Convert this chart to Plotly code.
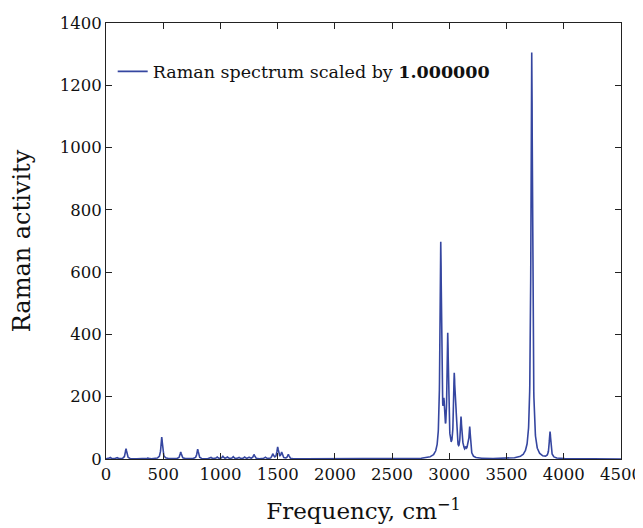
import numpy as np
import plotly.graph_objects as go

# Vibrational modes (cm^-1) and Raman activities
mode_freq = [35, 93, 175, 367, 487, 653, 801, 915, 970, 1020, 1060, 1110, 1160,
             1210, 1250, 1293, 1390, 1457, 1500, 1535, 1593,
             2925, 2953, 2986, 3043, 3058, 3102, 3122, 3143, 3160, 3178,
             3720, 3880]
mode_act = [5, 5, 33, 3, 70, 22, 31, 5, 6, 8, 6, 7, 5,
            6, 5, 14, 6, 15, 37, 20, 14,
            680, 120, 380, 240, 100, 120, 20, 20, 20, 95,
            1305, 85]
hwhm = 8.0  # Lorentzian half width, cm^-1

x_min, x_max, y_max = 0, 4500, 1400
x_ticks = [0, 500, 1000, 1500, 2000, 2500, 3000, 3500, 4000, 4500]
y_ticks = [0, 200, 400, 600, 800, 1000, 1200, 1400]

freq = np.arange(x_min, x_max + 1, 1.0)
spec = np.zeros_like(freq)
for f0, a in zip(mode_freq, mode_act):
    spec += a * hwhm**2 / ((freq - f0) ** 2 + hwhm**2)

font_fam = "DejaVu Serif, serif"

fig = go.Figure()
fig.add_trace(go.Scatter(
    x=freq, y=spec, mode="lines",
    line=dict(color="#3546a0", width=1.6),
    name="Raman spectrum scaled by <b>1.000000</b>",
))

axis_common = dict(
    showline=True, linecolor="#222", linewidth=1, mirror="allticks",
    ticks="inside", ticklen=6, tickcolor="#222", showgrid=False,
    zeroline=False, automargin=False,
    tickfont=dict(family=font_fam, size=16.5, color="#111"),
)
fig.update_xaxes(range=[x_min, x_max], tickvals=x_ticks, **axis_common,
                 title=dict(text="Frequency, cm<sup>\u22121</sup>",
                            font=dict(family=font_fam, size=23, color="#111"),
                            standoff=20))
fig.update_yaxes(range=[0, y_max], tickvals=y_ticks, **axis_common,
                 title=dict(text="Raman activity",
                            font=dict(family=font_fam, size=24, color="#111"),
                            standoff=30))

# the page body adds an 8px offset, so margins are shifted to compensate
fig.update_layout(
    width=643, height=528,
    margin=dict(l=98, r=30, t=15, b=77),
    plot_bgcolor="white", paper_bgcolor="white",
    showlegend=True,
    legend=dict(x=0.013, y=0.93, xanchor="left", yanchor="top",
                bgcolor="rgba(0,0,0,0)",
                font=dict(family=font_fam, size=17.5, color="#111"),
                itemwidth=30),
)

fig.write_html("out.html")
